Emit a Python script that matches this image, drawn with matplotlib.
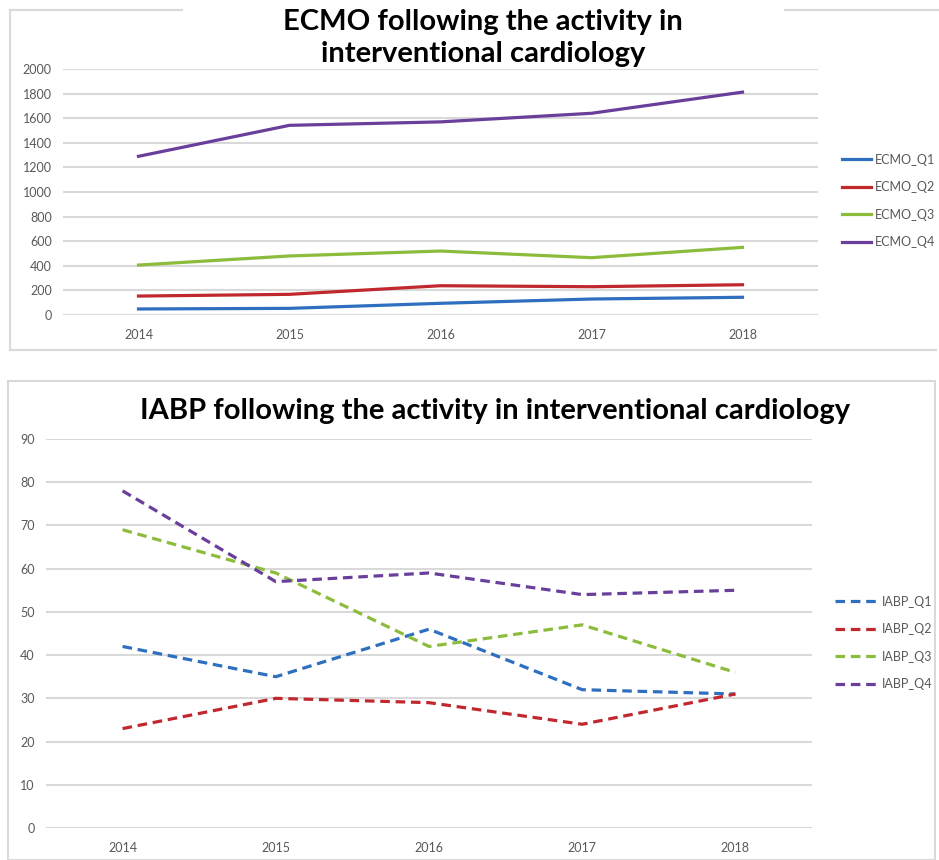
import matplotlib.pyplot as plt
from matplotlib.lines import Line2D
from matplotlib.patches import Rectangle

plt.rcParams['font.family'] = ['Lato', 'DejaVu Sans']

years = ['2014', '2015', '2016', '2017', '2018']

ecmo_q1 = [49, 54, 95, 130, 144]
ecmo_q2 = [154, 168, 238, 230, 246]
ecmo_q3 = [406, 480, 520, 466, 550]
ecmo_q4 = [1290, 1542, 1570, 1640, 1812]

iabp_q1 = [42, 35, 46, 32, 31]
iabp_q2 = [23, 30, 29, 24, 31]
iabp_q3 = [69, 59, 42, 47, 36]
iabp_q4 = [78, 57, 59, 54, 55]

colors = ['#2e6fbf', '#c0282d', '#8cbc3c', '#6a3f9c']
grid_col = '#d9d9d9'
tick_col = '#595959'

W, H = 939, 860
fig = plt.figure(figsize=(W / 100, H / 100), dpi=100)


def px(x0, y0, x1, y1):
    # pixel box -> figure fraction rect
    return [x0 / W, 1 - y1 / H, (x1 - x0) / W, (y1 - y0) / H]


def style(ax, ymax, step):
    ax.set_xlim(-0.5, 4.5)
    ax.set_ylim(0, ymax)
    ax.set_yticks(range(0, ymax + 1, step))
    ax.grid(axis='y', color=grid_col, lw=1.5)
    ax.set_axisbelow(True)
    for s in ax.spines.values():
        s.set_visible(False)
    ax.tick_params(length=0, labelsize=9, colors=tick_col)
    ax.tick_params(axis='x', pad=10)
    ax.tick_params(axis='y', pad=8)


# panel borders
fig.add_artist(Line2D([10 / W, 10 / W], [1 - 10 / H, 1 - 350 / H], color=grid_col, lw=1.5))
fig.add_artist(Line2D([10 / W, 936 / W], [1 - 350 / H, 1 - 350 / H], color=grid_col, lw=1.5))
fig.add_artist(Line2D([10 / W, 182 / W], [1 - 10 / H, 1 - 10 / H], color=grid_col, lw=1.5))
fig.add_artist(Line2D([785 / W, 939 / W], [1 - 10 / H, 1 - 10 / H], color=grid_col, lw=1.5))
fig.add_artist(Rectangle((8 / W, 0), 927 / W, 1 - 381 / H, transform=fig.transFigure,
                         fill=False, ec=grid_col, lw=1.5))

# ECMO
ax1 = fig.add_axes(px(63, 69, 818, 315))
style(ax1, 2000, 200)
for vals, c, lab in zip([ecmo_q1, ecmo_q2, ecmo_q3, ecmo_q4], colors,
                        ['ECMO_Q1', 'ECMO_Q2', 'ECMO_Q3', 'ECMO_Q4']):
    ax1.plot(years, vals, color=c, lw=2.3, label=lab)
ax1.legend(loc='center left', bbox_to_anchor=(842 / W, 1 - 201 / H), bbox_transform=fig.transFigure,
           frameon=False, fontsize=9, handlelength=2.3, handletextpad=0.3, labelspacing=1.25,
           borderpad=0, borderaxespad=0, labelcolor=tick_col)
fig.text(483 / W, 1 - 38 / H, 'ECMO following the activity in\ninterventional cardiology',
         ha='center', va='center', fontsize=21, fontweight='bold', linespacing=1.25)

# IABP
ax2 = fig.add_axes(px(46, 439, 812, 828))
style(ax2, 90, 10)
for vals, c, lab in zip([iabp_q1, iabp_q2, iabp_q3, iabp_q4], colors,
                        ['IABP_Q1', 'IABP_Q2', 'IABP_Q3', 'IABP_Q4']):
    ax2.plot(years, vals, color=c, lw=2.3, ls=(0, (3, 1.8)), label=lab)
ax2.legend(loc='center left', bbox_to_anchor=(835 / W, 1 - 643 / H), bbox_transform=fig.transFigure,
           frameon=False, fontsize=9, handlelength=3.4, handletextpad=0.35, labelspacing=1.25,
           borderpad=0, borderaxespad=0, labelcolor=tick_col)
fig.text(495 / W, 1 - 411 / H, 'IABP following the activity in interventional cardiology',
         ha='center', va='center', fontsize=21, fontweight='bold')

fig.savefig('out.png', dpi=100)
